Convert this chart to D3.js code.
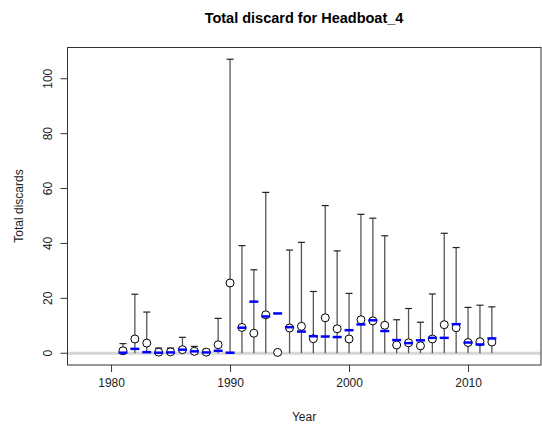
<!DOCTYPE html>
<html>
<head>
<meta charset="utf-8">
<script src="https://cdn.jsdelivr.net/npm/d3@7"></script>
<style>
  html, body { margin: 0; padding: 0; background: #fff; }
  svg { display: block; }
  text { font-family: "Liberation Sans", Arial, sans-serif; }
</style>
</head>
<body>
<svg id="chart" width="542" height="429"></svg>
<script>
const years = [1981,1982,1983,1984,1985,1986,1987,1988,1989,1990,1991,1992,1993,1994,1995,1996,1997,1998,1999,2000,2001,2002,2003,2004,2005,2006,2007,2008,2009,2010,2011,2012];
const observed = [0.9,5.2,3.7,0.4,0.5,1.3,0.7,0.4,3.1,25.6,9.4,7.3,14.0,0.3,9.2,9.8,5.3,12.9,8.9,5.2,12.2,11.8,10.2,3.0,3.8,2.7,5.2,10.4,9.3,3.9,4.2,4.1];
const predicted = [0.2,1.6,0.4,0.2,0.3,1.3,0.7,0.3,0.9,0.2,9.3,18.8,13.4,14.5,9.5,7.9,6.2,6.1,5.9,8.4,10.5,12.0,8.1,4.8,3.7,4.7,5.6,5.6,10.6,3.9,3.2,5.4];
const upperCI = [3.5,21.5,15.0,1.9,1.9,5.8,2.5,1.4,12.7,107.1,39.2,30.4,58.6,null,37.6,40.4,22.5,53.8,37.3,21.8,50.6,49.2,42.8,12.2,16.3,11.3,21.6,43.7,38.5,16.7,17.5,16.9];
const lowerCI = years.map(() => 0);
const xTicks = [1980,1990,2000,2010];
const yTicks = [0,20,40,60,80,100];

const svg = d3.select("#chart");
const box = {left: 67.5, right: 541, top: 47.5, bottom: 365};
const x = d3.scaleLinear().domain([1976.34, 2016.13]).range([box.left, box.right]);
const y = d3.scaleLinear().domain([-4.28, 111.38]).range([box.bottom, box.top]);

// zero reference line
svg.append("line")
  .attr("x1", box.left).attr("x2", box.right)
  .attr("y1", y(0)).attr("y2", y(0))
  .attr("stroke", "#d6d6d6").attr("stroke-width", 3);

// error bars
const data = years.map((yr, i) => ({yr, obs: observed[i], pred: predicted[i], lo: lowerCI[i], hi: upperCI[i]}));
const eb = svg.append("g");
data.filter(d => d.hi !== null).forEach(d => {
  eb.append("line").attr("x1", x(d.yr)).attr("x2", x(d.yr))
    .attr("y1", y(d.lo)).attr("y2", y(d.hi))
    .attr("stroke", "#555").attr("stroke-width", 1.3);
  eb.append("line").attr("x1", x(d.yr) - 3.5).attr("x2", x(d.yr) + 3.5)
    .attr("y1", y(d.hi)).attr("y2", y(d.hi))
    .attr("stroke", "#222").attr("stroke-width", 1.2);
});

// observed circles
svg.append("g").selectAll("circle").data(data).join("circle")
  .attr("cx", d => x(d.yr)).attr("cy", d => y(d.obs)).attr("r", 4)
  .attr("fill", "#fff").attr("stroke", "#000").attr("stroke-width", 1);

// predicted blue dashes
svg.append("g").selectAll("line").data(data).join("line")
  .attr("x1", d => x(d.yr) - 4.5).attr("x2", d => x(d.yr) + 4.5)
  .attr("y1", d => y(d.pred)).attr("y2", d => y(d.pred))
  .attr("stroke", "#0000ff").attr("stroke-width", 2.5);

// box
svg.append("rect")
  .attr("x", box.left).attr("y", box.top)
  .attr("width", box.right - box.left).attr("height", box.bottom - box.top)
  .attr("fill", "none").attr("stroke", "#333").attr("stroke-width", 1);

// x axis
const xAxis = svg.append("g").attr("transform", `translate(0,${box.bottom})`)
  .call(d3.axisBottom(x).tickValues(xTicks).tickFormat(d3.format("d")).tickSize(7).tickPadding(6));
xAxis.select(".domain").remove();
xAxis.selectAll("line").attr("stroke", "#333");
xAxis.selectAll("text").attr("font-size", 12).attr("fill", "#222")
  .attr("font-family", "Liberation Sans, Arial, sans-serif");

// y axis
const yAxis = svg.append("g").attr("transform", `translate(${box.left},0)`)
  .call(d3.axisLeft(y).tickValues(yTicks).tickSize(7).tickPadding(0));
yAxis.select(".domain").remove();
yAxis.selectAll("line").attr("stroke", "#333");
yAxis.selectAll("text")
  .attr("font-size", 12).attr("fill", "#222")
  .attr("font-family", "Liberation Sans, Arial, sans-serif")
  .attr("text-anchor", "middle").attr("dy", 0).attr("x", 0)
  .attr("transform", d => `translate(-16,${y(d)}) rotate(-90)`)
  .attr("y", 0)
  .attr("dominant-baseline", "auto");
yAxis.selectAll(".tick").attr("transform", null);
yAxis.selectAll(".tick line").attr("transform", d => `translate(0,${y(d)})`);

// titles
svg.append("text").attr("x", 304).attr("y", 23).attr("text-anchor", "middle")
  .attr("font-size", 14.5).attr("font-weight", "bold").attr("fill", "#000")
  .text("Total discard for Headboat_4");
svg.append("text").attr("x", 304).attr("y", 421).attr("text-anchor", "middle")
  .attr("font-size", 12).attr("fill", "#222").text("Year");
svg.append("text").attr("transform", "translate(23,206) rotate(-90)").attr("text-anchor", "middle")
  .attr("font-size", 12).attr("fill", "#222").text("Total discards");
</script>
</body>
</html>
